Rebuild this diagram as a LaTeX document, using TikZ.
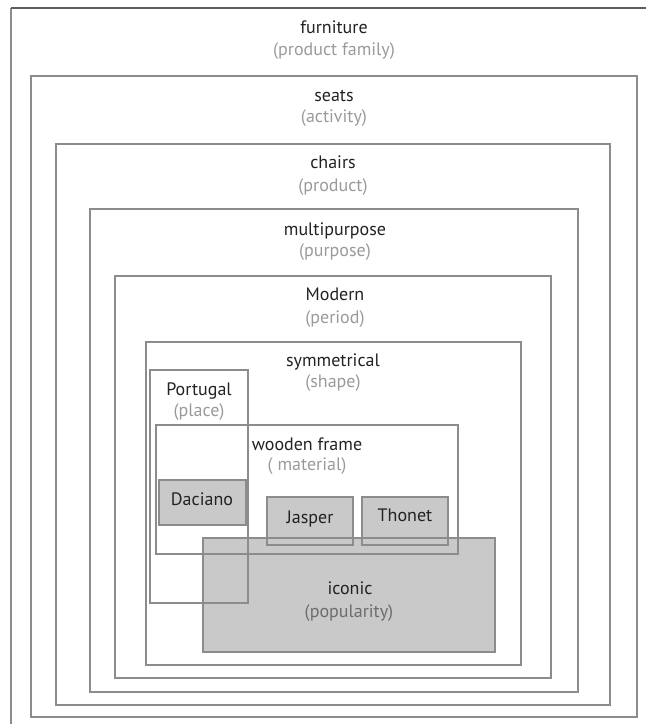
\documentclass[tikz,border=0pt]{standalone}
\usepackage{fontspec}
\setmainfont{PT Sans}
\definecolor{edgegray}{HTML}{8C8C8C}
\definecolor{topgray}{HTML}{5E5E5E}
\definecolor{boxfill}{HTML}{C9C9C9}
\definecolor{maintext}{HTML}{222222}
\definecolor{subtext}{HTML}{9A9A9A}
\definecolor{subdark}{HTML}{6C6C6C}
\begin{document}
\begin{tikzpicture}[x=1pt,y=-1pt,
  frame/.style={draw=edgegray, line width=1.4pt, inner sep=0pt, outer sep=0pt},
  tile/.style={frame, fill=boxfill},
  head/.style={anchor=base, inner sep=0pt, text=maintext, font=\fontsize{18}{21}\selectfont},
  note/.style={anchor=base, inner sep=0pt, text=subtext, font=\fontsize{18}{21}\selectfont}]
\useasboundingbox (0,0) rectangle (646,724);

% outermost category: only its top and left edges are in view
\coordinate (fTL) at (11,8);
\coordinate (fTR) at (646,8);
\coordinate (fBL) at (11,724);
\draw[edgegray, line width=1.4pt] (fTL) -- (fBL);
\draw[topgray, line width=2.6pt] (fTL) -- (fTR);

% nested categories
\node[frame, minimum width=606pt, minimum height=641pt] (seats)   at (334,396.5) {};
\node[frame, minimum width=554pt, minimum height=561pt] (chairs)  at (333,424.5) {};
\node[frame, minimum width=488pt, minimum height=483pt] (multi)   at (334,450.5) {};
\node[frame, minimum width=436pt, minimum height=402pt] (modern)  at (333,477) {};
\node[frame, minimum width=375pt, minimum height=323pt] (symm)    at (333.5,503.5) {};

% iconic layer (fill first, outline redrawn on top)
\node[tile, draw=none, minimum width=292pt, minimum height=114pt] (iconic) at (349,595) {};

% overlapping outlines
\node[frame, minimum width=98pt,  minimum height=233pt] (portugal) at (199,486.5) {};
\node[frame, minimum width=302pt, minimum height=129pt] (wooden)   at (307,489.5) {};

% individual chairs
\node[tile, minimum width=87pt, minimum height=45pt] (daciano) at (202.5,502.5) {};
\node[tile, minimum width=86pt, minimum height=48pt] (jasper)  at (310,521) {};
\node[tile, minimum width=86pt, minimum height=48pt] (thonet)  at (405,521) {};
\draw[edgegray, line width=1.4pt] (iconic.north west) rectangle (iconic.south east);

% labels
\node[head] (tFurn)  at (334,33)  {furniture};
\node[note] (sFurn)  at (334,55)  {(product family)};
\node[head] (tSeats) at (334,101) {seats};
\node[note] (sSeats) at (334,122) {(activity)};
\node[head] (tChair) at (333,168) {chairs};
\node[note] (sChair) at (333,191) {(product)};
\node[head] (tMulti) at (335,235) {multipurpose};
\node[note] (sMulti) at (335,256) {(purpose)};
\node[head] (tMod)   at (335,300) {Modern};
\node[note] (sMod)   at (335,323) {(period)};
\node[head] (tSym)   at (333,366) {symmetrical};
\node[note] (sSym)   at (333,387) {(shape)};
\node[head] (tPor)   at (199,395) {Portugal};
\node[note] (sPor)   at (199,416) {(place)};
\node[head] (tWood)  at (307,450) {wooden frame};
\node[note] (sWood)  at (307,470) {( material)};
\node[head] (tDac)   at (202,505) {Daciano};
\node[head] (tJas)   at (310,523) {Jasper};
\node[head] (tTho)   at (405,521) {Thonet};
\node[head] (tIco)   at (350,594) {iconic};
\node[note, text=subdark] (sIco) at (349,617) {(popularity)};
\end{tikzpicture}
\end{document}
